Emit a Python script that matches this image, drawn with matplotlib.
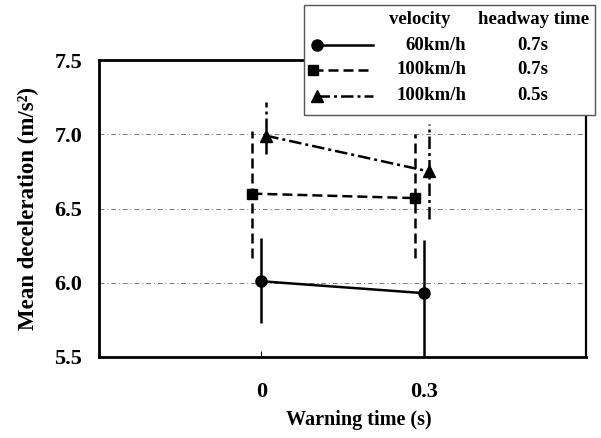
import matplotlib
matplotlib.use("Agg")
import matplotlib.pyplot as plt
from matplotlib.lines import Line2D
from matplotlib.patches import Rectangle

plt.rcParams['font.family'] = ['Liberation Serif', 'DejaVu Serif']
plt.rcParams['font.weight'] = 'bold'
plt.rcParams['axes.labelweight'] = 'bold'

# warning time categories
categories = ["0", "0.3"]
cat_pos = [1, 2]

# mean deceleration per condition (m/s^2) with lower / upper error
mean_60_07 = [6.01, 5.93]
low_60_07 = [0.28, 0.45]
up_60_07 = [0.29, 0.36]

mean_100_07 = [6.60, 6.57]
low_100_07 = [0.43, 0.40]
up_100_07 = [0.42, 0.43]

mean_100_05 = [6.99, 6.75]
low_100_05 = [0.12, 0.32]
up_100_05 = [0.23, 0.32]

velocity = ["60km/h", "100km/h", "100km/h"]
headway = ["0.7s", "0.7s", "0.5s"]

series = [
    (mean_60_07, low_60_07, up_60_07, 'o', '-', 0.0, 8),
    (mean_100_07, low_100_07, up_100_07, 's', (0, (4, 2)), -0.055, 7),
    (mean_100_05, low_100_05, up_100_05, '^', (0, (5, 1.6, 1.2, 1.6)), 0.03, 8),
]

fig = plt.figure(figsize=(6.01, 4.38), dpi=100)
ax = fig.add_axes([99 / 601, 1 - 357 / 438, 487 / 601, 297 / 438])

for mean, low, up, mk, ls, off, ms in series:
    xs = [p + off for p in cat_pos]
    eb = ax.errorbar(xs, mean, yerr=[low, up], fmt=mk, color='black', ms=ms,
                     linestyle=ls, lw=1.8, elinewidth=1.8, capsize=0, zorder=3)
    eb[2][0].set_linestyle(ls)

ax.set_xlim(0, 3)
ax.set_ylim(5.5, 7.5)
ax.set_xticks(cat_pos)
ax.set_xticklabels(categories)
ax.set_yticks([5.5, 6.0, 6.5, 7.0, 7.5])
ax.set_yticklabels(["5.5", "6.0", "6.5", "7.0", "7.5"])
ax.tick_params(axis='x', direction='in', length=4, width=0.8, labelsize=16, pad=18)
ax.tick_params(axis='y', length=0, labelsize=16, pad=12)
ax.yaxis.grid(True, linestyle=(0, (5, 3, 1, 3)), color='#777777', lw=0.7)
ax.set_axisbelow(True)

for side in ['left', 'bottom', 'top']:
    ax.spines[side].set_linewidth(2.0)
ax.spines['right'].set_linewidth(1.6)

ax.set_ylabel("Mean deceleration (m/s²)", fontsize=16.5)
ax.yaxis.set_label_coords(-0.124, 0.5)
ax.set_xlabel("Warning time (s)", fontsize=14.5)
ax.xaxis.set_label_coords(0.534, -0.18)

# hand-built legend box with table layout
W, H = 601.0, 438.0
def fx(px):
    return px / W
def fy(py):
    return 1 - py / H

box = Rectangle((fx(304), fy(115)), fx(595) - fx(304), fy(5) - fy(115),
                transform=fig.transFigure, facecolor='white', edgecolor='#555555',
                lw=1.0, zorder=10)
fig.patches.append(box)

fig.text(fx(420), fy(20), "velocity", ha='center', va='center', fontsize=13.5, zorder=11)
fig.text(fx(534), fy(20), "headway time", ha='center', va='center', fontsize=13.5, zorder=11)

rows_y = [45, 70, 96]
mk_x = [317, 313, 317]
for (mean, low, up, mk, ls, off, ms), ry, mx, vel, hw in zip(series, rows_y, mk_x, velocity, headway):
    fig.lines.append(Line2D([fx(mx), fx(373)], [fy(ry), fy(ry)], transform=fig.transFigure,
                            color='black', lw=1.8, linestyle=ls, zorder=11))
    fig.lines.append(Line2D([fx(mx)], [fy(ry)], transform=fig.transFigure, marker=mk,
                            ms=ms, color='black', zorder=12))
    fig.text(fx(466), fy(ry), vel, ha='right', va='center', fontsize=13.5, zorder=11)
    fig.text(fx(533), fy(ry), hw, ha='center', va='center', fontsize=13.5, zorder=11)

fig.savefig("out.png", dpi=100)
